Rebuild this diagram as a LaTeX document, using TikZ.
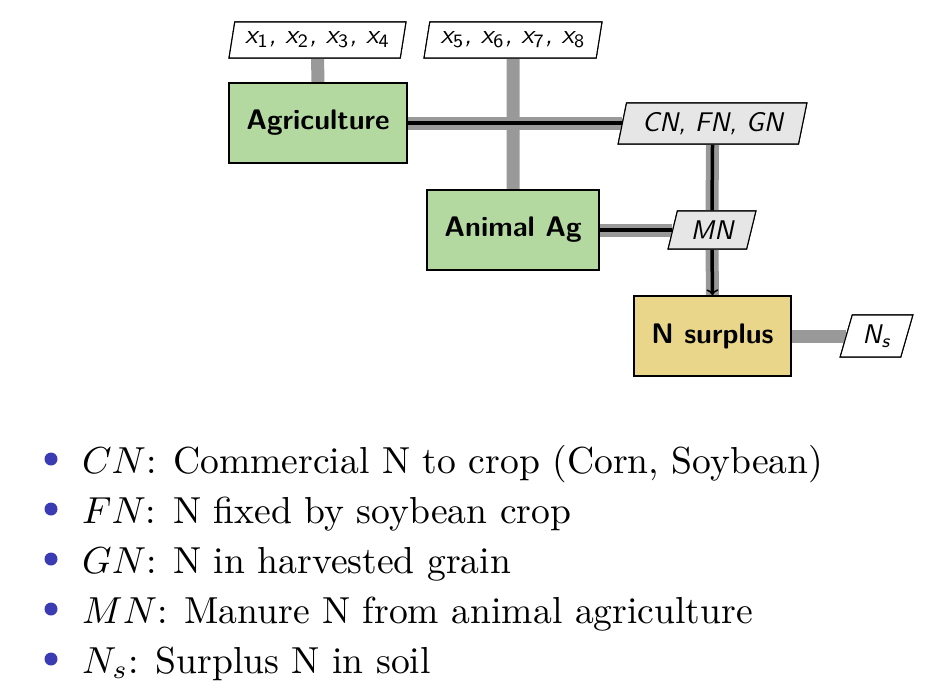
\documentclass[tikz,border=0pt]{standalone}
\usepackage{graphicx}
\usetikzlibrary{shapes.geometric,arrows.meta}
\definecolor{agri}{HTML}{B4D9A0}
\definecolor{surplus}{HTML}{E9D68B}
\definecolor{flowgray}{HTML}{999999}
\definecolor{varfill}{HTML}{E6E6E6}
\definecolor{ballblue}{HTML}{3B3BB3}
% enlarged 10pt text in the diagram and in the list
\newcommand{\boxtxt}[1]{\scalebox{2.83}{\fontsize{10}{12}\selectfont #1}}
\newcommand{\vartxt}[1]{\scalebox{2.7}{\fontsize{10}{12}\selectfont #1}}
\newcommand{\listtxt}[1]{\scalebox{3.76}{\fontsize{10}{12}\selectfont #1}}
\newcommand{\xsub}[1]{x\textsubscript{\upshape #1}}
\begin{document}
\begin{tikzpicture}[x=1pt,y=-1pt,
  procbox/.style={draw=black,line width=1.3pt,minimum height=80pt,inner sep=0pt,
    font=\sffamily\bfseries},
  varbox/.style={draw=black,line width=1.1pt,trapezium,trapezium left angle=73,
    trapezium right angle=107,trapezium stretches=true,inner sep=0pt,
    font=\sffamily\slshape},
  graypipe/.style={draw=flowgray,line width=13pt},
  blackflow/.style={draw=black,line width=3.5pt},
  bulletdot/.style={circle,fill=ballblue,minimum size=13pt,inner sep=0pt},
  itemtext/.style={anchor=base west,inner sep=0pt}
]
\useasboundingbox (0,0) rectangle (939,699);

% centres of the boxes (pipes are drawn first, boxes over them)
\path (318,123) coordinate (agriC) (513,230) coordinate (animC) (712.5,336) coordinate (surpC)
      (317.5,40) coordinate (xaC) (513,40) coordinate (xbC) (712.5,123.5) coordinate (cnC)
      (712,230) coordinate (mnC) (876.5,336) coordinate (nsC);

% process boxes
\node[procbox,fill=agri,minimum width=178pt] (agri) at (agriC) {\boxtxt{Agriculture}};
\node[procbox,fill=agri,minimum width=172pt] (anim) at (animC) {\boxtxt{Animal Ag}};
\node[procbox,fill=surplus,minimum width=157pt] (surp) at (surpC) {\boxtxt{N surplus}};

% variable boxes
\node[varbox,fill=white,minimum width=177pt,minimum height=36pt] (xa) at (xaC)
  {\vartxt{\xsub1, \xsub2, \xsub3, \xsub4}};
\node[varbox,fill=white,minimum width=178pt,minimum height=36pt] (xb) at (xbC)
  {\vartxt{\xsub5, \xsub6, \xsub7, \xsub8}};
\node[varbox,fill=varfill,minimum width=189pt,minimum height=41pt] (cn) at (cnC) {\vartxt{CN, FN, GN}};
\node[varbox,fill=varfill,minimum width=88pt,minimum height=38pt] (mn) at (mnC) {\vartxt{MN}};
\node[varbox,fill=white,minimum width=73pt,minimum height=42pt] (ns) at (nsC)
  {\vartxt{N\textsubscript{s}}};

% flows
\path[graypipe] (xa.south) -- (agri.north);
\path[graypipe] (xb.south) -- (anim.north);
\path[graypipe] (agri.east) -- (agri.east -| cn.west);
\path[blackflow] (agri.east) -- (agri.east -| cn.west);
\path[graypipe] (cn.south) -- (mn.north);
\path[blackflow] (cn.south) -- (mn.north);
\path[graypipe] (anim.east) -- (anim.east -| mn.west);
\path[blackflow] (anim.east) -- (anim.east -| mn.west);
\path[graypipe] (mn.south) -- (surp.north);
\draw[black,line width=3.5pt,-{To[length=6pt,width=12pt,line width=1.5pt]}] (mn.south) -- (surp.north);
\path[graypipe] (surp.east) -- (surp.east -| ns.west);

% boxes again, over the pipe ends
\node[procbox,fill=agri,minimum width=178pt] at (agriC) {\boxtxt{Agriculture}};
\node[procbox,fill=agri,minimum width=172pt] at (animC) {\boxtxt{Animal Ag}};
\node[procbox,fill=surplus,minimum width=157pt] at (surpC) {\boxtxt{N surplus}};
\node[varbox,fill=white,minimum width=177pt,minimum height=36pt] at (xaC)
  {\vartxt{\xsub1, \xsub2, \xsub3, \xsub4}};
\node[varbox,fill=white,minimum width=178pt,minimum height=36pt] at (xbC)
  {\vartxt{\xsub5, \xsub6, \xsub7, \xsub8}};
\node[varbox,fill=varfill,minimum width=189pt,minimum height=41pt] at (cnC) {\vartxt{CN, FN, GN}};
\node[varbox,fill=varfill,minimum width=88pt,minimum height=38pt] at (mnC) {\vartxt{MN}};
\node[varbox,fill=white,minimum width=73pt,minimum height=42pt] at (nsC)
  {\vartxt{N\textsubscript{s}}};

% legend
\foreach \yy/\txt [count=\i] in {
  473/{$CN$: Commercial N to crop (Corn, Soybean)},
  523/{$FN$: N fixed by soybean crop},
  573/{$GN$: N in harvested grain},
  623/{$MN$: Manure N from animal agriculture},
  673/{$N_s$: Surplus N in soil}} {
  \node[bulletdot] (dot\i) at (51,\yy-14) {};
  \node[itemtext] (item\i) at (82,\yy) {\listtxt{\txt}};
}
\end{tikzpicture}
\end{document}
